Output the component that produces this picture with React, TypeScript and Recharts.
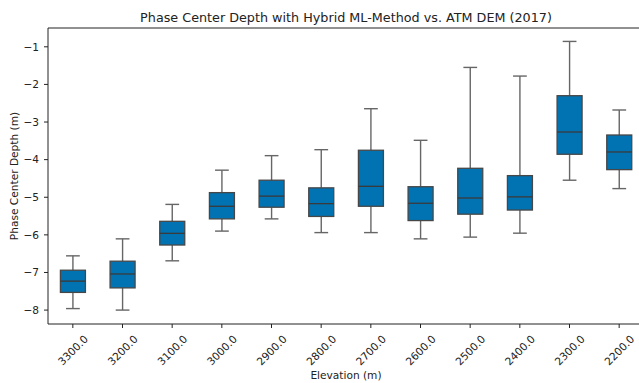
import React from "react";
import { ComposedChart, Bar, XAxis, YAxis, ReferenceLine } from "recharts";

const elevations = ["3300.0", "3200.0", "3100.0", "3000.0", "2900.0", "2800.0", "2700.0", "2600.0", "2500.0", "2400.0", "2300.0", "2200.0"];
const whiskerLow = [-7.96, -8.0, -6.69, -5.9, -5.575, -5.94, -5.94, -6.106, -6.06, -5.955, -4.547, -4.77];
const q1 = [-7.53, -7.41, -6.27, -5.575, -5.265, -5.51, -5.24, -5.62, -5.45, -5.34, -3.857, -4.266];
const median = [-7.23, -7.04, -5.96, -5.24, -4.97, -5.17, -4.71, -5.16, -5.02, -4.99, -3.265, -3.796];
const q3 = [-6.94, -6.7, -5.64, -4.877, -4.547, -4.75, -3.75, -4.72, -4.23, -4.425, -2.3, -3.345];
const whiskerHigh = [-6.558, -6.106, -5.19, -4.28, -3.894, -3.735, -2.646, -3.486, -1.548, -1.778, -0.857, -2.68];
const yTicks = [-8, -7, -6, -5, -4, -3, -2, -1];

const data = elevations.map((e, i) => ({
  elevation: e,
  low: whiskerLow[i],
  q1: q1[i],
  median: median[i],
  q3: q3[i],
  high: whiskerHigh[i],
  range: [whiskerLow[i], whiskerHigh[i]],
}));

const FONT = "DejaVu Sans";
const TICK_FS = 10.6;
const BOX_FILL = "#0173B2";
const BOX_EDGE = "#474747";
const WHISKER = "#666666";
const AXIS = "#222222";

const BoxShape = (props: any) => {
  const { x, y, width, height, payload } = props;
  if (!payload) return null;
  const top = Math.min(y, y + height);
  const h = Math.abs(height);
  const hi = payload.high;
  const lo = payload.low;
  const py = (v: number) => top + ((hi - v) / (hi - lo)) * h;
  const cx = x + width / 2;
  const capW = width * 0.55;
  const yHigh = py(hi);
  const yLow = py(lo);
  const yQ3 = py(payload.q3);
  const yQ1 = py(payload.q1);
  const yMed = py(payload.median);
  return (
    <g>
      <line x1={cx} x2={cx} y1={yHigh} y2={yQ3} stroke={WHISKER} strokeWidth={1.4} />
      <line x1={cx} x2={cx} y1={yQ1} y2={yLow} stroke={WHISKER} strokeWidth={1.4} />
      <line x1={cx - capW / 2} x2={cx + capW / 2} y1={yHigh} y2={yHigh} stroke={WHISKER} strokeWidth={1.4} />
      <line x1={cx - capW / 2} x2={cx + capW / 2} y1={yLow} y2={yLow} stroke={WHISKER} strokeWidth={1.4} />
      <rect x={x} y={yQ3} width={width} height={yQ1 - yQ3} fill={BOX_FILL} stroke={BOX_EDGE} strokeWidth={1.3} />
      <line x1={x} x2={x + width} y1={yMed} y2={yMed} stroke="#3a3a3a" strokeWidth={1.3} />
    </g>
  );
};

const XTick = (props: any) => {
  const { x, y, payload } = props;
  const cy = y + 20;
  return (
    <text
      x={x}
      y={cy}
      textAnchor="middle"
      dominantBaseline="central"
      transform={`rotate(-45, ${x}, ${cy})`}
      fontFamily={FONT}
      fontSize={TICK_FS}
      fill="#222"
    >
      {payload.value}
    </text>
  );
};

const fmtY = (v: number) => (v < 0 ? "\u2212" + Math.abs(v) : String(v));

export default function App() {
  return (
    <div
      style={{
        position: "fixed",
        left: 0,
        top: 0,
        width: 639,
        height: 383,
        overflow: "hidden",
        background: "#fff",
      }}
    >
      <ComposedChart
        width={660}
        height={383}
        data={data}
        margin={{ top: 28, right: 16, bottom: 19, left: 0 }}
        barCategoryGap="25%"
      >
        <XAxis
          dataKey="elevation"
          type="category"
          height={40}
          tick={<XTick />}
          tickSize={4}
          tickLine={{ stroke: AXIS }}
          axisLine={{ stroke: AXIS }}
          interval={0}
        />
        <YAxis
          type="number"
          domain={[-8.37, -0.5]}
          allowDataOverflow
          ticks={yTicks}
          width={48}
          tickSize={4}
          tickMargin={5}
          tickFormatter={fmtY}
          tick={{ fontFamily: FONT, fontSize: TICK_FS, fill: "#222" }}
          tickLine={{ stroke: AXIS }}
          axisLine={{ stroke: AXIS }}
        />
        <ReferenceLine y={-0.5} stroke={AXIS} strokeWidth={1} />
        <Bar dataKey="range" shape={<BoxShape />} isAnimationActive={false} />
      </ComposedChart>
      <svg
        width={639}
        height={383}
        style={{ position: "absolute", left: 0, top: 0, pointerEvents: "none" }}
      >
        <text x={346} y={17} textAnchor="middle" dominantBaseline="central" fontFamily={FONT} fontSize={12.75} fill="#222">
          Phase Center Depth with Hybrid ML-Method vs. ATM DEM (2017)
        </text>
        <text x={346} y={375} textAnchor="middle" dominantBaseline="central" fontFamily={FONT} fontSize={TICK_FS} fill="#222">
          Elevation (m)
        </text>
        <text
          x={14}
          y={176}
          textAnchor="middle"
          dominantBaseline="central"
          transform="rotate(-90, 14, 176)"
          fontFamily={FONT}
          fontSize={TICK_FS}
          fill="#222"
        >
          Phase Center Depth (m)
        </text>
      </svg>
    </div>
  );
}
